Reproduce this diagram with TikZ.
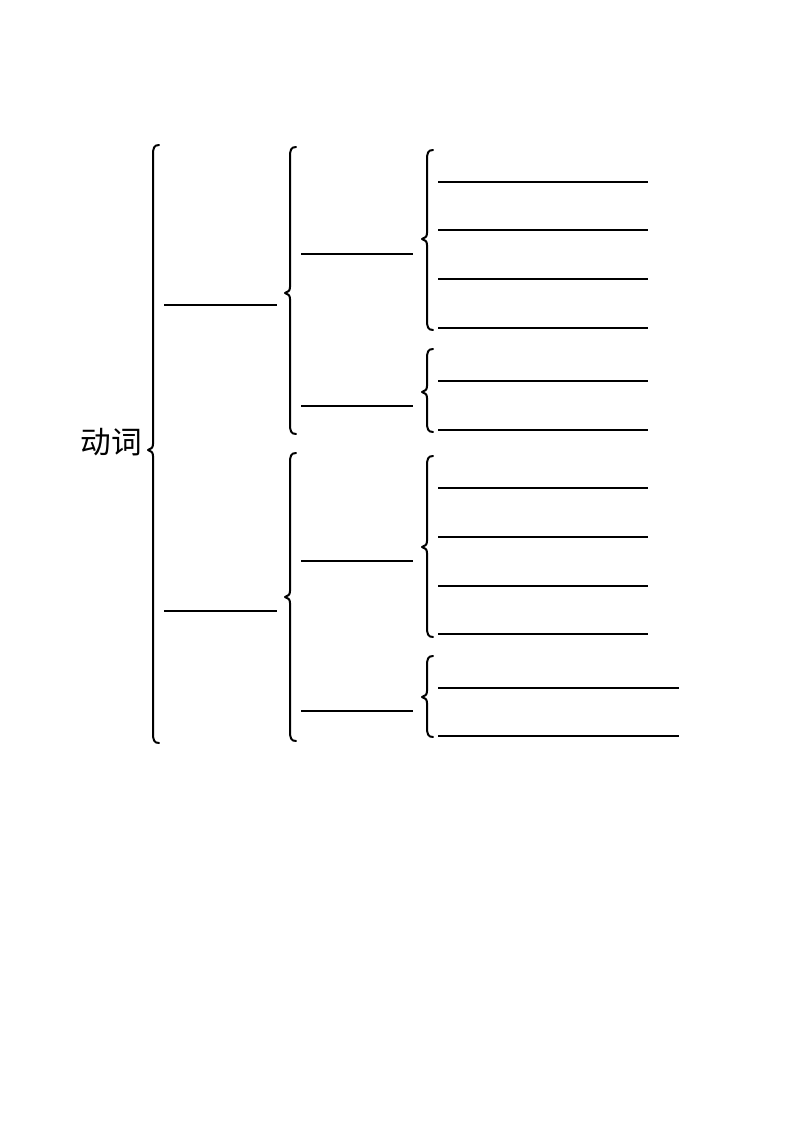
\documentclass[tikz,border=0pt]{standalone}
\usepackage{fontspec}
\newfontfamily\cjk{Noto Sans CJK SC}
\newcommand\mybrace[4]{% x, top, tip, bottom
  \draw[bracestyle] (#1+6,#2) .. controls (#1+1,#2) and (#1,#2+3) .. (#1,#2+10)
    -- (#1,#3-6) .. controls (#1,#3-2) and (#1-2,#3-1) .. (#1-5,#3)
    .. controls (#1-2,#3+1) and (#1,#3+2) .. (#1,#3+6)
    -- (#1,#4-10) .. controls (#1,#4-3) and (#1+1,#4) .. (#1+6,#4);}
\newcommand\myblank[4]{% y, x1, x2(gap), x3
  \draw[blankline] (#2,#1) -- (#3-0.35,#1);
  \draw[blankline] (#3+0.35,#1) -- (#4,#1);}
\newcommand\mylong[5]{% y, x1, gap1, gap2, x2
  \draw[blankline] (#2,#1) -- (#3-0.35,#1);
  \draw[blankline] (#3+0.35,#1) -- (#4-0.35,#1);
  \draw[blankline] (#4+0.35,#1) -- (#5,#1);}
\begin{document}
\begin{tikzpicture}[x=0.75pt,y=-0.75pt,
  bracestyle/.style={line width=1.5pt,line cap=round,line join=round},
  blankline/.style={line width=0.8pt},
  label/.style={font=\cjk\fontsize{23}{23}\selectfont,inner sep=0pt}]
\useasboundingbox[fill=white] (0,0) rectangle (794,1123);
\node[label] (verb) at (111,442) {动词};
% main brace
\mybrace{153}{145}{450}{743}
% level 1 blanks
\myblank{305}{164}{196}{277}
\myblank{611}{164}{196}{277}
% level 2 braces
\mybrace{290}{147}{293}{434}
\mybrace{290}{453}{597}{741}
% level 2 blanks
\myblank{254}{301}{333}{413}
\myblank{406}{301}{333}{413}
\myblank{561}{301}{333}{413}
\myblank{711}{301}{333}{413}
% level 3 braces
\mybrace{427}{150}{239}{330}
\mybrace{427}{349}{392}{432}
\mybrace{427}{456}{547}{637}
\mybrace{427}{656}{697}{737}
% level 3 blanks
\mylong{182}{438}{486}{583}{648}
\mylong{230}{438}{486}{583}{648}
\mylong{279}{438}{486}{583}{648}
\mylong{328}{438}{486}{583}{648}
\mylong{381}{438}{486}{583}{648}
\mylong{430}{438}{486}{583}{648}
\mylong{488}{438}{486}{583}{648}
\mylong{537}{438}{486}{583}{648}
\mylong{586}{438}{486}{583}{648}
\mylong{634}{438}{486}{583}{648}
\mylong{688}{438}{486}{583}{679}
\mylong{736}{438}{486}{583}{679}
\end{tikzpicture}
\end{document}
